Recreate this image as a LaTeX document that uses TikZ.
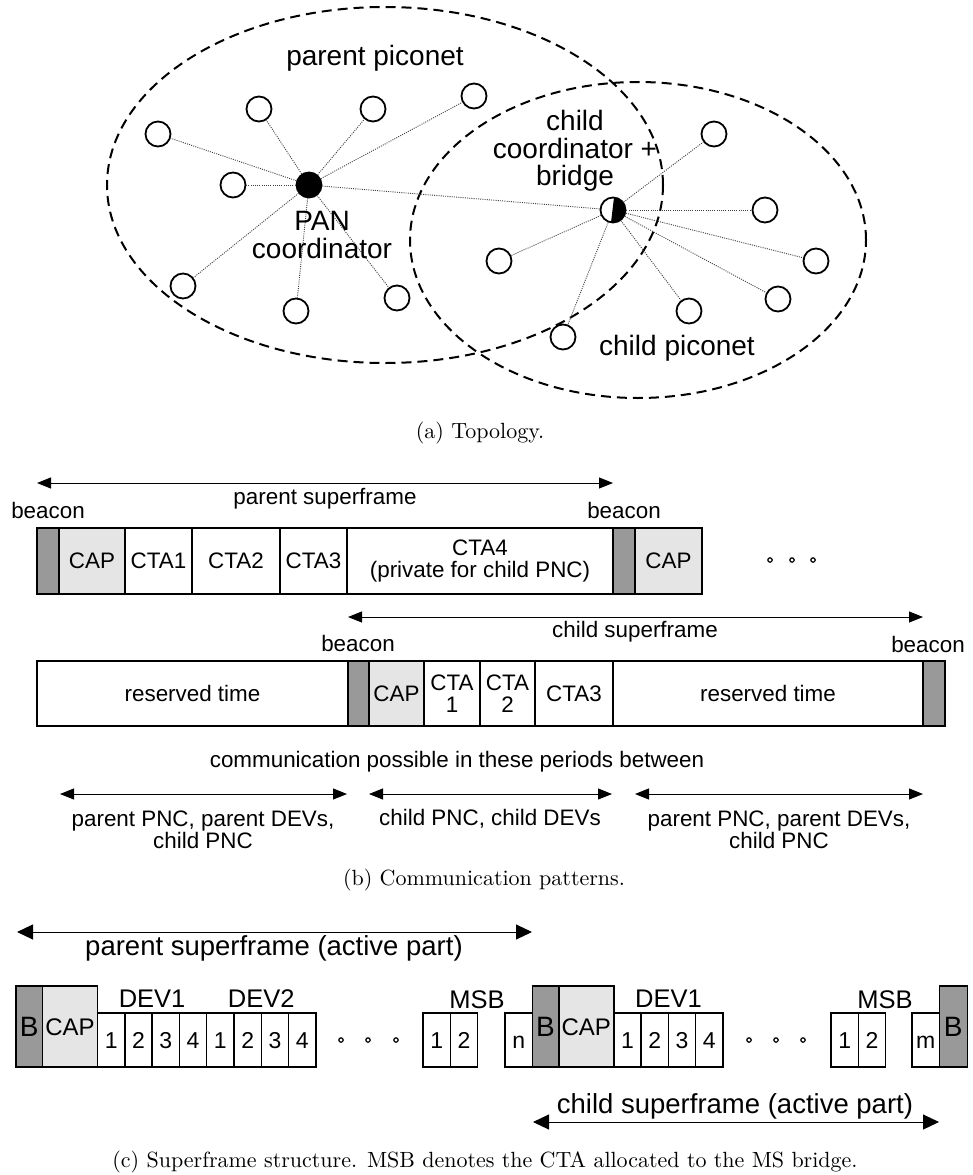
\documentclass[tikz,border=0pt]{standalone}
\usepackage{fontspec}
\setsansfont{Liberation Sans}
\newfontfamily\capfamily{lmroman10-regular}[Extension=.otf]
\usetikzlibrary{arrows.meta, positioning}
\newcommand{\topofont}{\sffamily\fontsize{28pt}{27.5pt}\selectfont}
\newcommand{\cellfont}{\sffamily\fontsize{22.4pt}{22pt}\selectfont}
\newcommand{\slotfont}{\sffamily\fontsize{23pt}{23pt}\selectfont}
\newcommand{\bigfont}{\sffamily\fontsize{27.5pt}{27.5pt}\selectfont}
\newcommand{\capfont}{\capfamily\fontsize{22pt}{24pt}\selectfont}
\tikzstyle{dev}       = [circle, draw, fill=white, line width=1.8pt,
                         minimum size=25pt, inner sep=0pt]
\tikzstyle{pnc}       = [dev, fill=black]
\tikzstyle{link}      = [line width=0.9pt, black!75, dash pattern=on 1pt off 1.2pt]
\tikzstyle{piconet}   = [line width=2pt, dash pattern=on 10pt off 6pt]
\tikzstyle{topotext}  = [font=\topofont, align=center, inner sep=0pt]
\tikzstyle{cell}      = [rectangle, draw, fill=white, line width=1.5pt, outer sep=0pt,
                         inner sep=0pt, minimum height=66pt, font=\cellfont, align=center]
\tikzstyle{bcnbox}    = [cell, fill=black!40]
\tikzstyle{capbox}    = [cell, fill=black!10]
\tikzstyle{btext}     = [font=\cellfont, inner sep=0pt, anchor=base]
\tikzstyle{spanarrow} = [{Triangle[length=14pt,width=11pt]}-{Triangle[length=14pt,width=11pt]},
                         line width=1pt]
\tikzstyle{slot}      = [rectangle, draw, fill=white, line width=1.5pt, outer sep=0pt,
                         inner sep=0pt, minimum width=27.3pt, minimum height=54pt,
                         font=\slotfont, text height=16.5pt, text depth=0pt]
\tikzstyle{tallslot}  = [slot, minimum height=81pt]
\tikzstyle{bslot}     = [tallslot, fill=black!40, minimum width=26.5pt,
                         font=\sffamily\fontsize{28pt}{28pt}\selectfont, text height=20pt]
\tikzstyle{cslot}     = [tallslot, fill=black!10, minimum width=55pt,
                         font=\sffamily\fontsize{24pt}{24pt}\selectfont, text height=17.3pt]
\tikzstyle{slottext}  = [font=\sffamily\fontsize{25.5pt}{25.5pt}\selectfont, inner sep=0pt, anchor=base]
\tikzstyle{bigarrow}  = [{Triangle[length=16pt,width=15pt]}-{Triangle[length=16pt,width=15pt]},
                         line width=1pt]
\tikzstyle{figcap}    = [font=\capfont, inner sep=0pt, anchor=base]
\begin{document}
\begin{tikzpicture}[x=1pt, y=-1pt]
  \useasboundingbox (0,0) rectangle (972,1175);

  % (a) topology
  \draw[piconet] (385,185) ellipse (278pt and 178pt);
  \draw[piconet] (638,240) ellipse (228pt and 158pt);

  \node[dev] (p1) at (158,134) {};
  \node[dev] (p2) at (259,109) {};
  \node[dev] (p3) at (373,109) {};
  \node[dev] (p4) at (474,96) {};
  \node[dev] (p5) at (233,185) {};
  \node[dev] (p6) at (183,286) {};
  \node[dev] (p7) at (296,311) {};
  \node[dev] (p8) at (397,298) {};
  \node[pnc] (pan) at (309,185) {};

  \node[dev, path picture={\fill[black] ([xshift=1pt]path picture bounding box.north)
      -- ([xshift=-2pt]path picture bounding box.south)
      -- (path picture bounding box.south east)
      -- (path picture bounding box.north east) -- cycle;}] (cc) at (613,210) {};
  \node[dev] (c1) at (714,134) {};
  \node[dev] (c2) at (765,210) {};
  \node[dev] (c3) at (816,261) {};
  \node[dev] (c4) at (778,299) {};
  \node[dev] (c5) at (689,311) {};
  \node[dev] (c6) at (563,337) {};
  \node[dev] (c7) at (499,261) {};

  \foreach \d in {p1,p2,p3,p4,p5,p6,p7,p8,cc}
    \draw[link] (pan) -- (\d);
  \foreach \d in {c1,c2,c3,c4,c5,c6,c7}
    \draw[link] (cc) -- (\d);

  \node[topotext] (parentlbl) at (375,58) {parent piconet};
  \node[topotext] (panlbl) at (322,235) {PAN\\coordinator};
  \node[topotext] (cclbl) at (575,151) {child\\coordinator +\\bridge};
  \node[topotext] (childlbl) at (677,348) {child piconet};

  \node[figcap] (capa) at (480,438) {(a) Topology.};

  % (b) communication patterns
  \node[bcnbox, minimum width=22pt] (pb1) at (48,561) {};
  \node[capbox, minimum width=66pt, right=0pt of pb1] (pcap1) {CAP};
  \node[cell, minimum width=67pt, right=0pt of pcap1] (pcta1) {CTA1};
  \node[cell, minimum width=88pt, right=0pt of pcta1] (pcta2) {CTA2};
  \node[cell, minimum width=67pt, right=0pt of pcta2] (pcta3) {CTA3};
  \node[cell, minimum width=266pt, right=0pt of pcta3] (pcta4) {CTA4\\(private for child PNC)};
  \node[bcnbox, minimum width=22pt, right=0pt of pcta4] (pb2) {};
  \node[capbox, minimum width=67pt, right=0pt of pb2] (pcap2) {CAP};
  \foreach \x in {770,792,813}
    \draw[line width=1.2pt] (\x,560) circle (2.2pt);

  \node[cell, minimum width=311pt, minimum height=65pt] (cres1) at (192.5,693.5) {reserved time};
  \node[bcnbox, minimum width=21pt, minimum height=65pt, right=0pt of cres1] (cb1) {};
  \node[capbox, minimum width=55pt, minimum height=65pt, right=0pt of cb1] (ccap) {CAP};
  \node[cell, minimum width=56pt, minimum height=65pt, right=0pt of ccap] (ccta1) {CTA\\1};
  \node[cell, minimum width=55pt, minimum height=65pt, right=0pt of ccta1] (ccta2) {CTA\\2};
  \node[cell, minimum width=78pt, minimum height=65pt, right=0pt of ccta2] (ccta3) {CTA3};
  \node[cell, minimum width=310pt, minimum height=65pt, right=0pt of ccta3] (cres2) {reserved time};
  \node[bcnbox, minimum width=22pt, minimum height=65pt, right=0pt of cres2] (cb2) {};

  \coordinate (psl) at ([yshift=45pt]pb1.north west);
  \coordinate (psr) at ([yshift=45pt]pb2.north west);
  \draw[spanarrow] (psl) -- (psr);
  \node[btext] (pslbl) at (325,504) {parent superframe};
  \coordinate (csl) at ([yshift=44pt]cb1.north west);
  \coordinate (csr) at ([yshift=44pt]cb2.north west);
  \draw[spanarrow] (csl) -- (csr);
  \node[btext] (cslbl) at (635,637) {child superframe};

  \node[btext] (bcn1) at (48,518) {beacon};
  \node[btext] (bcn2) at (624,518) {beacon};
  \node[btext] (bcn3) at (358,651) {beacon};
  \node[btext] (bcn4) at (928,652) {beacon};

  \node[btext] (commlbl) at (457,767) {communication possible in these periods between};
  \coordinate (k1l) at (60,794);  \coordinate (k1r) at (347,794);
  \coordinate (k2l) at (369,794); \coordinate (k2r) at (612,794);
  \coordinate (k3l) at (635,794); \coordinate (k3r) at (923,794);
  \draw[spanarrow] (k1l) -- (k1r);
  \draw[spanarrow] (k2l) -- (k2r);
  \draw[spanarrow] (k3l) -- (k3r);
  \node[font=\cellfont, align=center, inner sep=0pt] (k1lbl) at (203,830) {parent PNC, parent DEVs,\\child PNC};
  \node[btext] (k2lbl) at (490,825) {child PNC, child DEVs};
  \node[font=\cellfont, align=center, inner sep=0pt] (k3lbl) at (779,830) {parent PNC, parent DEVs,\\child PNC};

  \node[figcap] (capb) at (484,885) {(b) Communication patterns.};

  % (c) superframe structure
  \node[bslot, anchor=south west] (b1) at (16,1067) {B};
  \node[cslot, right=0pt of b1] (cap1) {CAP};
  \node[slot, anchor=south west] (d11) at (cap1.south east) {1};
  \node[slot, right=0pt of d11] (d12) {2};
  \node[slot, right=0pt of d12] (d13) {3};
  \node[slot, right=0pt of d13] (d14) {4};
  \node[slot, right=0pt of d14] (d21) {1};
  \node[slot, right=0pt of d21] (d22) {2};
  \node[slot, right=0pt of d22] (d23) {3};
  \node[slot, right=0pt of d23] (d24) {4};
  \foreach \x in {341,368,396}
    \draw[line width=1.2pt] (\x,1040) circle (2.2pt);
  \node[slot, anchor=south west] (msa1) at (423,1067) {1};
  \node[slot, right=0pt of msa1] (msa2) {2};
  \node[slot, anchor=south west] (sn) at (505,1067) {n};
  \node[bslot, anchor=south west] (b2) at (sn.south east) {B};
  \node[cslot, right=0pt of b2] (cap2) {CAP};
  \node[slot, anchor=south west] (d31) at (cap2.south east) {1};
  \node[slot, right=0pt of d31] (d32) {2};
  \node[slot, right=0pt of d32] (d33) {3};
  \node[slot, right=0pt of d33] (d34) {4};
  \foreach \x in {749,776,803}
    \draw[line width=1.2pt] (\x,1040) circle (2.2pt);
  \node[slot, anchor=south west] (msb1) at (831,1067) {1};
  \node[slot, right=0pt of msb1] (msb2) {2};
  \node[slot, anchor=south west] (sm) at (912,1067) {m};
  \node[bslot, anchor=south west, minimum width=28pt] (b3) at (sm.south east) {B};

  \node[slottext, anchor=south, above=5pt of d12.north east] (dev1a) {DEV1};
  \node[slottext, anchor=south, above=5pt of d22.north east] (dev2a) {DEV2};
  \node[slottext, anchor=south, above=5pt of d32.north east] (dev1b) {DEV1};
  \node[slottext] (msblbl1) at (477,1008) {MSB};
  \node[slottext] (msblbl2) at (885,1008) {MSB};

  \coordinate (pal) at (17,932);  \coordinate (par) at (532,932);
  \draw[bigarrow] (pal) -- (par);
  \node[font=\bigfont, inner sep=0pt, anchor=base] (palbl) at (274,955) {parent superframe (active part)};
  \coordinate (cal) at (533,1122); \coordinate (car) at (939,1122);
  \draw[bigarrow] (cal) -- (car);
  \node[font=\bigfont, inner sep=0pt, anchor=base] (calbl) at (735,1113) {child superframe (active part)};

  \node[figcap] (capc) at (485,1167) {(c) Superframe structure. MSB denotes the CTA allocated to the MS bridge.};
\end{tikzpicture}
\end{document}
